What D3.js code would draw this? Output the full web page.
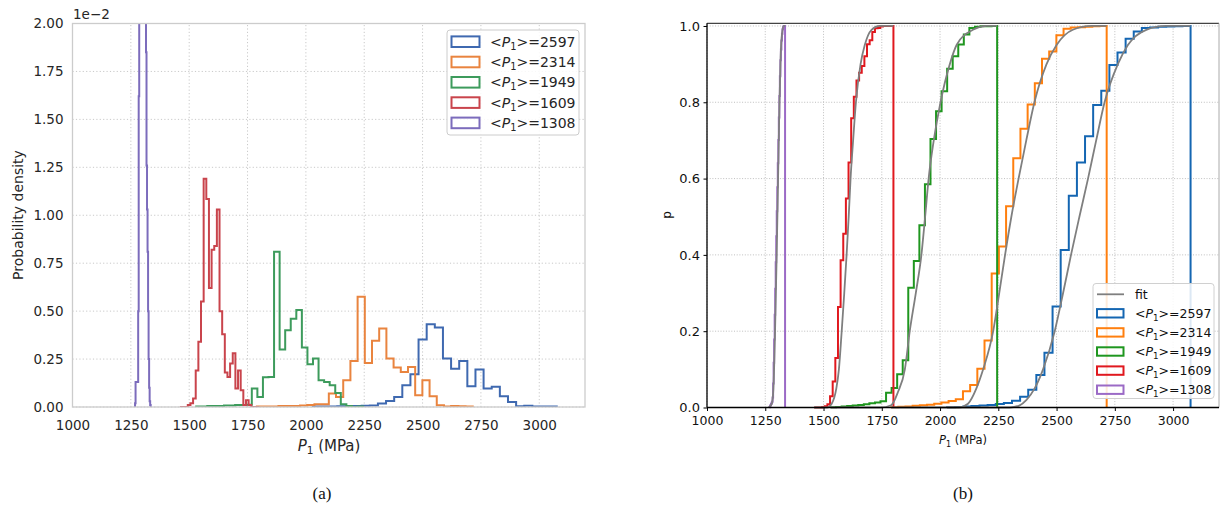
<!DOCTYPE html>
<html><head><meta charset="utf-8">
<script src="https://cdn.jsdelivr.net/npm/d3@7"></script>
<style>
body{margin:0;background:#fff;}
svg{display:block;font-family:"DejaVu Sans",sans-serif;}
</style>
</head><body>
<svg id="c" width="1225" height="512"></svg>
<script>
// ---------------- data ----------------
const seriesMeans = ["2597", "2314", "1949", "1609", "1308"];
const binStart = [2030, 1790, 1530, 1460, 1268];
const binEnd   = [3075, 2715, 2245, 1800, 1335];
// probability density per bin (units of 1e-2), 30 bins each
const densBlue = [0.002,0.002,0.003,0.004,0.004,0.005,0.006,0.008,0.018,0.031,0.052,0.113,0.171,0.352,0.432,0.415,0.253,0.20,0.24,0.108,0.196,0.096,0.105,0.056,0.026,0.004,0.006,0.002,0.002,0.002];
const densOrange = [0.003,0.003,0.003,0.005,0.005,0.005,0.008,0.01,0.014,0.014,0.07,0.052,0.14,0.24,0.575,0.23,0.345,0.41,0.253,0.206,0.183,0.209,0.061,0.14,0.056,0.009,0.003,0.005,0.004,0.002];
const densGreen = [0.003,0.003,0.005,0.005,0.005,0.008,0.008,0.01,0.01,0.012,0.096,0.052,0.155,0.157,0.81,0.30,0.40,0.46,0.506,0.31,0.223,0.253,0.14,0.13,0.113,0.073,0.014,0.005,0.0,0.003];
const densRed = [0.0,0.0,0.0,0.01,0.02,0.044,0.19,0.34,0.55,1.19,1.085,0.62,0.82,0.84,1.03,0.50,0.38,0.18,0.157,0.227,0.28,0.096,0.19,0.087,0.01,0.035,0.01,0.0,0.0,0.0];
const densPurple = [0.02,0.13,0.13,0.13,0.13,0.13,0.5,1.62,2.4,2.7,2.9,3.0,3.1,3.0,2.9,2.8,2.8,2.7,2.6,2.5,2.3,1.85,1.26,1.03,0.81,0.5,0.25,0.1,0.03,0.01];
const densities = [densBlue, densOrange, densGreen, densRed, densPurple];

// fitted CDF curves: [P1, p]
const fitBlue = [[2030,0],[2300,0.0],[2340,0.005],[2371,0.02],[2406,0.05],[2442,0.1],[2492,0.2],[2528,0.3],[2562,0.4],[2598,0.5],[2635,0.6],[2670,0.7],[2706,0.8],[2763,0.9],[2806,0.95],[2885,0.99],[2970,1.0],[3075,1.0]];
const fitOrange = [[1790,0],[2080,0.0],[2120,0.01],[2156,0.05],[2185,0.1],[2228,0.2],[2254,0.3],[2279,0.4],[2306,0.5],[2337,0.6],[2370,0.7],[2405,0.8],[2457,0.9],[2500,0.95],[2570,0.99],[2650,1.0],[2715,1.0]];
const fitGreen = [[1530,0],[1745,0.0],[1790,0.006],[1819,0.04],[1849,0.1],[1870,0.2],[1896,0.3],[1920,0.4],[1936,0.5],[1951,0.6],[1973,0.7],[2002,0.8],[2042,0.9],[2071,0.95],[2141,0.99],[2200,1.0],[2245,1.0]];
const fitRed = [[1460,0],[1515,0.0],[1535,0.01],[1555,0.05],[1566,0.1],[1578,0.2],[1589,0.3],[1599,0.4],[1608,0.5],[1616,0.6],[1627,0.7],[1639,0.8],[1659,0.9],[1677,0.95],[1706,0.99],[1740,1.0],[1800,1.0]];
const fitPurple = [[1265,0],[1278,0.01],[1285,0.05],[1292,0.2],[1299,0.4],[1305,0.6],[1311,0.8],[1316,0.92],[1322,0.98],[1330,1.0],[1335,1.0]];
const fits = [fitBlue, fitOrange, fitGreen, fitRed, fitPurple];

const xTicks = [1000, 1250, 1500, 1750, 2000, 2250, 2500, 2750, 3000];
const yTicksA = [0, 0.25, 0.5, 0.75, 1.0, 1.25, 1.5, 1.75, 2.0];
const yTicksB = [0, 0.2, 0.4, 0.6, 0.8, 1.0];

const colorsA = ["#3f69b0", "#e9843f", "#3d9b5c", "#c9444c", "#7c6cbc"];
const colorsB = ["#1466b2", "#ff7f0e", "#1f961f", "#e0181e", "#9b6ac6"];

// ---------------- helpers ----------------
const svg = d3.select("#c");
function edgesOf(k){ const n = densities[k].length; return d3.range(n+1).map(i => binStart[k] + i*(binEnd[k]-binStart[k])/n); }
function stepPts(edges, vals){
  const pts = [[edges[0], 0]];
  vals.forEach((v,i) => { pts.push([edges[i], v]); pts.push([edges[i+1], v]); });
  pts.push([edges[edges.length-1], 0]);
  return pts;
}
function labelP(sel, txt, fs){
  sel.append("tspan").text("<");
  sel.append("tspan").attr("font-style","italic").text("P");
  sel.append("tspan").attr("font-size", fs*0.7).attr("dy", fs*0.22).text("1");
  sel.append("tspan").attr("dy", -fs*0.22).text(">=" + txt);
}

// ================= Panel (a) =================
const xA = d3.scaleLinear().domain([1000, 3196]).range([72.5, 585]);
const yA = d3.scaleLinear().domain([0, 2.0]).range([407, 23.5]);
const gA = svg.append("g");
gA.append("clipPath").attr("id","clipA").append("rect")
  .attr("x", xA(1000)).attr("y", yA(2.0)).attr("width", xA(3196)-xA(1000)).attr("height", yA(0)-yA(2.0));

// grid
const gridA = gA.append("g").attr("stroke","#c9c9c9").attr("stroke-width",1).attr("stroke-dasharray","1.2,2.2");
xTicks.forEach(t => gridA.append("line").attr("x1",xA(t)).attr("x2",xA(t)).attr("y1",yA(0)).attr("y2",yA(2.0)));
yTicksA.forEach(t => gridA.append("line").attr("x1",xA(1000)).attr("x2",xA(3196)).attr("y1",yA(t)).attr("y2",yA(t)));

const lineA = d3.line().x(d => xA(d[0])).y(d => yA(d[1]));
const histG = gA.append("g").attr("clip-path","url(#clipA)");
densities.forEach((dv, k) => {
  histG.append("path").attr("d", lineA(stepPts(edgesOf(k), dv)))
    .attr("fill","none").attr("stroke", colorsA[k]).attr("stroke-width", 2).attr("stroke-linejoin","miter");
});

// spines
gA.append("rect").attr("x", xA(1000)).attr("y", yA(2.0)).attr("width", xA(3196)-xA(1000)).attr("height", yA(0)-yA(2.0))
  .attr("fill","none").attr("stroke","#cccccc").attr("stroke-width",1.3);

// axes
const axA_x = gA.append("g").attr("transform", `translate(0,${yA(0)})`)
  .call(d3.axisBottom(xA).tickValues(xTicks).tickSize(0).tickPadding(13).tickFormat(d3.format("d")));
const axA_y = gA.append("g").attr("transform", `translate(${xA(1000)},0)`)
  .call(d3.axisLeft(yA).tickValues(yTicksA).tickSize(0).tickPadding(9).tickFormat(d3.format(".2f")));
[axA_x, axA_y].forEach(a => { a.select(".domain").remove(); a.selectAll("text").attr("font-size", 13.5).attr("fill","#262626").attr("font-family","DejaVu Sans"); });

gA.append("text").attr("x", 73).attr("y", 19).attr("font-size", 13.5).attr("fill","#262626").text("1e\u22122");
gA.append("text").attr("transform", "translate(23,215) rotate(-90)").attr("text-anchor","middle")
  .attr("font-size", 14).attr("fill","#262626").text("Probability density");
const xlabA = gA.append("text").attr("x", 329).attr("y", 451).attr("text-anchor","middle").attr("font-size", 15).attr("fill","#262626");
xlabA.append("tspan").attr("font-style","italic").text("P");
xlabA.append("tspan").attr("font-size", 10.5).attr("dy", 3).text("1");
xlabA.append("tspan").attr("dy", -3).text(" (MPa)");

// legend (a)
const legA = gA.append("g");
legA.append("rect").attr("x", 447).attr("y", 30).attr("width", 132).attr("height", 105).attr("rx", 3)
  .attr("fill","#fff").attr("fill-opacity",0.85).attr("stroke","#cccccc").attr("stroke-width",1);
seriesMeans.forEach((m,k) => {
  const yy = 41.7 + k*20.3;
  legA.append("rect").attr("x", 451.5).attr("y", yy-5.3).attr("width", 28).attr("height", 10.6)
    .attr("fill","none").attr("stroke", colorsA[k]).attr("stroke-width", 2);
  const t = legA.append("text").attr("x", 490).attr("y", yy+5).attr("font-size", 14).attr("fill","#262626");
  labelP(t, m, 14);
});

// ================= Panel (b) =================
const xB = d3.scaleLinear().domain([1000, 3197]).range([707, 1219]);
const yB = d3.scaleLinear().domain([0, 1.007]).range([407.5, 23.3]);
const gB = svg.append("g");
gB.append("clipPath").attr("id","clipB").append("rect")
  .attr("x", xB(1000)).attr("y", yB(1.007)-2).attr("width", xB(3197)-xB(1000)).attr("height", yB(0)-yB(1.007)+4);

const gridB = gB.append("g").attr("stroke","#b8b8b8").attr("stroke-width",0.9).attr("stroke-dasharray","1,1.7");
xTicks.forEach(t => gridB.append("line").attr("x1",xB(t)).attr("x2",xB(t)).attr("y1",yB(0)).attr("y2",yB(1.007)));
yTicksB.forEach(t => gridB.append("line").attr("x1",xB(1000)).attr("x2",xB(3197)).attr("y1",yB(t)).attr("y2",yB(t)));

const lineB = d3.line().x(d => xB(d[0])).y(d => yB(d[1]));
const cdfG = gB.append("g").attr("clip-path","url(#clipB)");
densities.forEach((dv, k) => {
  const cs = Array.from(d3.cumsum(dv));
  const tot = cs[cs.length-1];
  const p = cs.map(c => c/tot);
  cdfG.append("path").attr("d", lineB(stepPts(edgesOf(k), p)))
    .attr("fill","none").attr("stroke", colorsB[k]).attr("stroke-width", 2);
});
const fitLine = d3.line().x(d => xB(d[0])).y(d => yB(d[1])).curve(d3.curveMonotoneX);
fits.forEach(f => {
  cdfG.append("path").attr("d", fitLine(f)).attr("fill","none").attr("stroke","#7f7f7f").attr("stroke-width",1.8);
});

// spines
gB.append("line").attr("x1",xB(1000)).attr("x2",xB(3197)).attr("y1",yB(1.007)).attr("y2",yB(1.007)).attr("stroke","#444").attr("stroke-width",1.3);
gB.append("line").attr("x1",xB(3197)).attr("x2",xB(3197)).attr("y1",yB(0)).attr("y2",yB(1.007)).attr("stroke","#aaa").attr("stroke-width",1);

const axB_x = gB.append("g").attr("transform", `translate(0,${yB(0)})`)
  .call(d3.axisBottom(xB).tickValues(xTicks).tickSize(3.5).tickPadding(5.5).tickFormat(d3.format("d")));
const axB_y = gB.append("g").attr("transform", `translate(${xB(1000)},0)`)
  .call(d3.axisLeft(yB).tickValues(yTicksB).tickSize(3.5).tickPadding(3.5).tickFormat(d3.format(".1f")));
[axB_x, axB_y].forEach(a => {
  a.select(".domain").attr("stroke","#000").attr("stroke-width",1.3);
  a.selectAll(".tick line").attr("stroke","#000");
  a.selectAll("text").attr("font-family","DejaVu Sans").attr("fill","#111");
});
axB_x.selectAll("text").attr("font-size", 12.5);
axB_y.selectAll("text").attr("font-size", 13);
axB_x.select(".domain").attr("d", `M${xB(1000)},0H${xB(3197)}`);
axB_y.select(".domain").attr("d", `M0,${yB(0)}V${yB(1.007)}`);

gB.append("text").attr("transform", "translate(671,215) rotate(-90)").attr("text-anchor","middle")
  .attr("font-size", 12).attr("fill","#111").text("p");
const xlabB = gB.append("text").attr("x", 963).attr("y", 444).attr("text-anchor","middle").attr("font-size", 11.5).attr("fill","#111");
xlabB.append("tspan").attr("font-style","italic").text("P");
xlabB.append("tspan").attr("font-size", 8).attr("dy", 2.5).text("1");
xlabB.append("tspan").attr("dy", -2.5).text(" (MPa)");

// legend (b)
const legB = gB.append("g");
legB.append("rect").attr("x", 1093).attr("y", 283.5).attr("width", 121).attr("height", 115).attr("rx", 3)
  .attr("fill","#fff").attr("fill-opacity",0.85).attr("stroke","#d0d0d0").attr("stroke-width",1);
legB.append("line").attr("x1",1097).attr("x2",1124).attr("y1",294.3).attr("y2",294.3).attr("stroke","#7f7f7f").attr("stroke-width",1.8);
legB.append("text").attr("x",1135).attr("y",298.8).attr("font-size",12.5).attr("fill","#111").text("fit");
seriesMeans.forEach((m,k) => {
  const yy = 313.3 + k*19.1;
  legB.append("rect").attr("x", 1097).attr("y", yy-4.2).attr("width", 26.5).attr("height", 8.4)
    .attr("fill","none").attr("stroke", colorsB[k]).attr("stroke-width", 2);
  const t = legB.append("text").attr("x", 1135).attr("y", yy+4.5).attr("font-size", 12.5).attr("fill","#111");
  labelP(t, m, 12.5);
});

// captions
svg.append("text").attr("x", 322).attr("y", 499).attr("text-anchor","middle").attr("font-family","Liberation Serif, serif").attr("font-size",17).attr("fill","#111").text("(a)");
svg.append("text").attr("x", 963).attr("y", 499).attr("text-anchor","middle").attr("font-family","Liberation Serif, serif").attr("font-size",17).attr("fill","#111").text("(b)");
</script>
</body></html>
